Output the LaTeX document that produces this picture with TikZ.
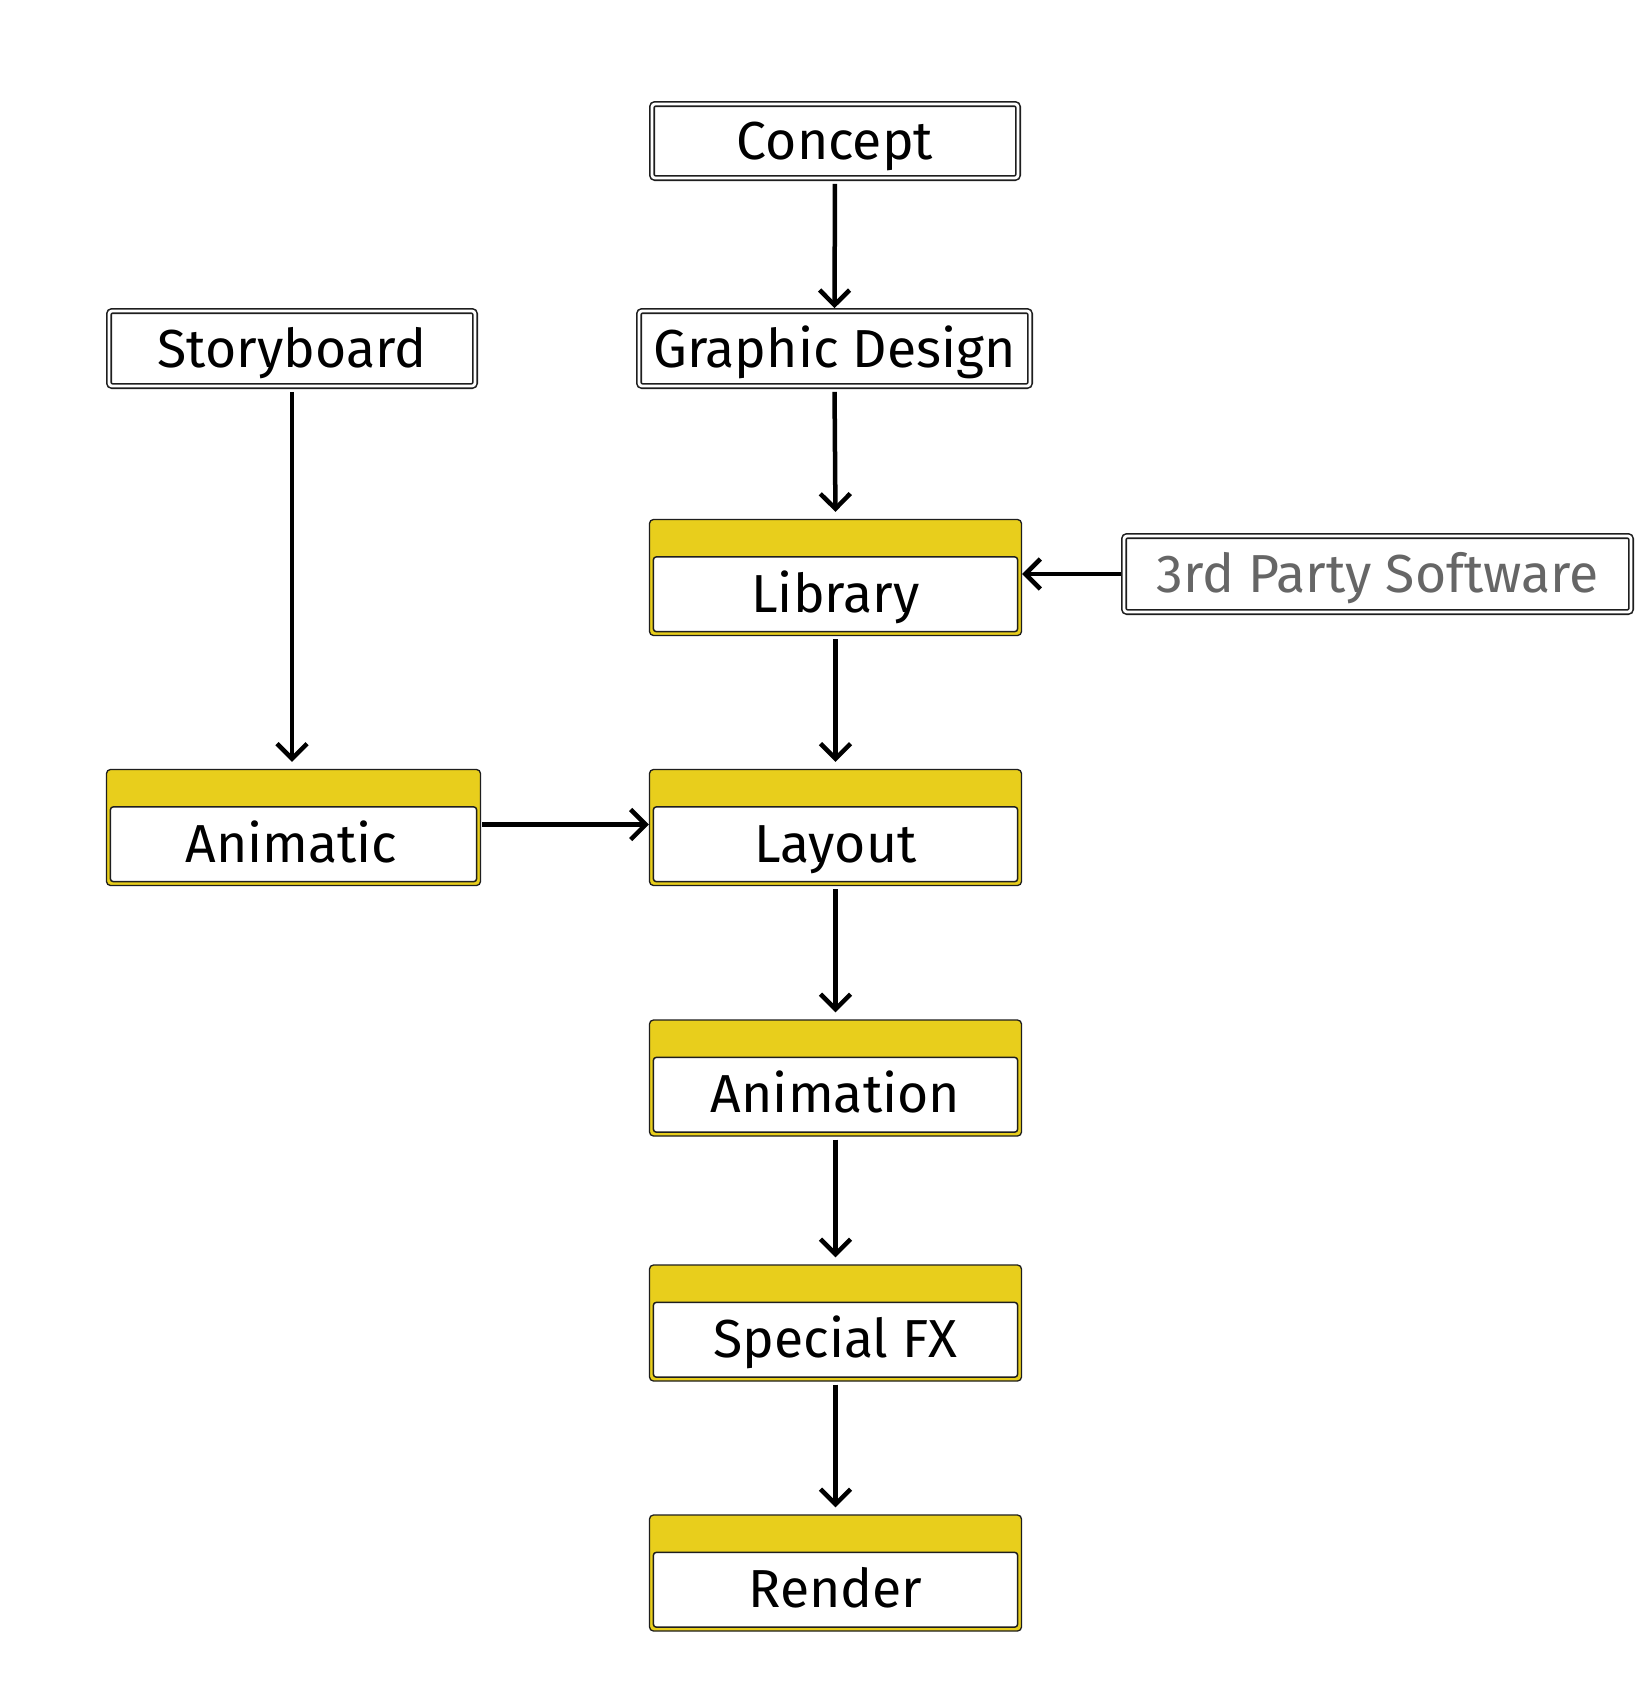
\documentclass[tikz,border=0pt]{standalone}
\usepackage{fontspec}
\setmainfont{Fira Sans}
\usetikzlibrary{arrows.meta,calc}
\definecolor{yellowc}{RGB}{232,206,28}
\definecolor{bline}{RGB}{30,30,30}
\definecolor{gtext}{RGB}{102,102,102}
\begin{document}
\begin{tikzpicture}[x=1pt,y=-1pt,
  txt/.style={font=\fontsize{53.5}{58}\selectfont, text height=37pt, text depth=0pt},
  dbox/.style={txt, draw=bline, line width=1.6pt, double=white, double distance=2.8pt,
    rounded corners=3pt, inner sep=0pt},
  ybox/.style={draw=bline, line width=1.3pt, fill=yellowc, rounded corners=4pt,
    inner sep=0pt, minimum width=372pt, minimum height=116pt},
  whitein/.style={draw=bline, line width=1.5pt, fill=white, rounded corners=3pt},
  lbl/.style={txt, inner sep=0pt},
  arr/.style={draw=black, line width=4.5pt, -{Straight Barb[length=15pt,width=30pt]}}
]
\fill[white] (0,0) rectangle (1646,1701);
\useasboundingbox (0,0) rectangle (1646,1701);

% plain double-border boxes
\node[dbox, minimum width=366pt, minimum height=74pt] (concept) at (835,141) {Concept};
\node[dbox, minimum width=391pt, minimum height=75pt] (gd) at (834.5,348.5) {Graphic Design};
\node[dbox, minimum width=366pt, minimum height=75pt] (sb) at (292,348.5) {Storyboard};
\node[dbox, minimum width=507pt, minimum height=76pt, text=gtext] (third) at (1377.5,574) {3rd Party Software};

% yellow boxes
\node[ybox] (lib) at (835.5,577.5) {};
\node[ybox, minimum width=374pt] (anim) at (293.5,827.5) {};
\node[ybox] (layout) at (835.5,827.5) {};
\node[ybox] (animation) at (835.5,1078) {};
\node[ybox] (sfx) at (835.5,1323) {};
\node[ybox] (render) at (835.5,1573) {};

\foreach \n in {lib,anim,layout,animation,sfx,render}{
  \draw[whitein] ($(\n.north west)+(4.5,38)$) rectangle ($(\n.south east)+(-4.5,-4.5)$);
}
\node[lbl] (libt) at ($(lib.north)+(0,75)$) {Library};
\node[lbl] (animt) at ($(anim.north)+(-2,75)$) {Animatic};
\node[lbl] (layoutt) at ($(layout.north)+(0,75)$) {Layout};
\node[lbl] (animationt) at ($(animation.north)+(0,75)$) {Animation};
\node[lbl] (sfxt) at ($(sfx.north)+(0,75)$) {Special FX};
\node[lbl] (rendert) at ($(render.north)+(0,75)$) {Render};

% connectors
\draw[arr, shorten <=5pt, shorten >=2pt] (concept.south) -- (gd.north);
\draw[arr, shorten <=5pt, shorten >=7pt] (gd.south) -- (lib.north);
\draw[arr, shorten <=5pt, shorten >=7pt] (sb.south) -- (sb.south |- anim.north);
\draw[arr, shorten <=3pt, shorten >=7pt] (lib.south) -- (layout.north);
\draw[arr, shorten <=2pt] (third.west) -- (third.west -| lib.east);
\draw[arr, shorten <=1pt] ([yshift=3pt]anim.east) -- ([yshift=3pt]layout.west);
\draw[arr, shorten <=3pt, shorten >=7pt] (layout.south) -- (animation.north);
\draw[arr, shorten <=3pt, shorten >=7pt] (animation.south) -- (sfx.north);
\draw[arr, shorten <=3pt, shorten >=7pt] (sfx.south) -- (render.north);
\end{tikzpicture}
\end{document}
